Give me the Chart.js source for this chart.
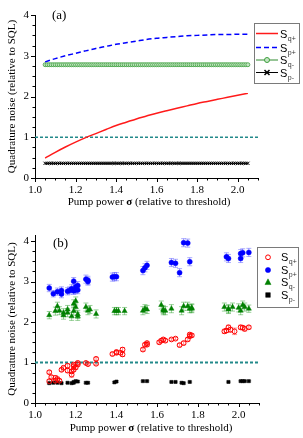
<!DOCTYPE html>
<html><head><meta charset="utf-8">
<script src="https://cdn.jsdelivr.net/npm/chart.js@4.4.0/dist/chart.umd.min.js"></script>
<style>
html,body{margin:0;padding:0;background:#fff;overflow:hidden;}
#wrapA{position:relative;width:303px;height:218px;}
#wrapB{position:relative;width:303px;height:220px;}
</style></head>
<body>
<div id="wrapA"><canvas id="chartA"></canvas></div>
<div id="wrapB"><canvas id="chartB"></canvas></div>
<script>
// ---------- DATA: panel (a) theory ----------
const sigmaCurve = [1.05,1.10,1.15,1.20,1.25,1.30,1.35,1.40,1.45,1.50,1.55,1.60,1.65,1.70,1.75,1.80,1.85,1.90,1.95,2.00,2.05];
const sqPlusTheory = [0.49,0.63,0.76,0.88,0.99,1.09,1.19,1.29,1.37,1.45,1.52,1.59,1.65,1.71,1.77,1.83,1.88,1.93,1.98,2.03,2.08];
const spPlusTheory = [2.85,2.93,3.00,3.06,3.12,3.18,3.23,3.28,3.32,3.36,3.40,3.43,3.45,3.47,3.49,3.50,3.51,3.52,3.52,3.53,3.53];
const sigmaDense = [1.05,1.06,1.07,1.08,1.09,1.10,1.11,1.12,1.13,1.14,1.15,1.16,1.17,1.18,1.19,1.20,1.21,1.22,1.23,1.24,1.25,1.26,1.27,1.28,1.29,1.30,1.31,1.32,1.33,1.34,1.35,1.36,1.37,1.38,1.39,1.40,1.41,1.42,1.43,1.44,1.45,1.46,1.47,1.48,1.49,1.50,1.51,1.52,1.53,1.54,1.55,1.56,1.57,1.58,1.59,1.60,1.61,1.62,1.63,1.64,1.65,1.66,1.67,1.68,1.69,1.70,1.71,1.72,1.73,1.74,1.75,1.76,1.77,1.78,1.79,1.80,1.81,1.82,1.83,1.84,1.85,1.86,1.87,1.88,1.89,1.90,1.91,1.92,1.93,1.94,1.95,1.96,1.97,1.98,1.99,2.00,2.01,2.02,2.03,2.04,2.05];
const sqMinusTheory = 2.78;
const spMinusTheory = 0.36;

// ---------- DATA: panel (b) measurements ----------
const sigmaSqPlus = [1.07,1.07,1.08,1.10,1.10,1.11,1.12,1.13,1.14,1.16,1.16,1.18,1.18,1.19,1.19,1.19,1.20,1.21,1.21,1.25,1.26,1.30,1.30,1.38,1.40,1.40,1.42,1.43,1.43,1.53,1.54,1.55,1.55,1.61,1.62,1.63,1.64,1.67,1.69,1.71,1.73,1.75,1.76,1.76,1.77,1.93,1.94,1.95,1.96,1.98,2.01,2.02,2.03,2.05];
const sqPlusMeas  = [0.76,0.54,0.64,0.55,0.62,0.59,0.55,0.82,0.87,0.92,0.80,0.70,0.78,0.82,0.91,0.95,0.88,0.95,0.99,0.99,0.96,0.97,1.09,1.21,1.24,1.26,1.24,1.32,1.20,1.32,1.44,1.48,1.44,1.50,1.54,1.57,1.54,1.57,1.59,1.43,1.48,1.57,1.65,1.69,1.67,1.77,1.79,1.87,1.81,1.77,1.87,1.86,1.83,1.87];
const sqPlusErr   = [0.04,0.04,0.04,0.05,0.06,0.05,0.04,0.04,0.04,0.05,0.05,0.06,0.05,0.04,0.04,0.04,0.05,0.04,0.04,0.03,0.03,0.03,0.04,0.04,0.04,0.04,0.04,0.05,0.05,0.04,0.04,0.04,0.04,0.04,0.04,0.04,0.04,0.03,0.03,0.04,0.04,0.04,0.04,0.04,0.04,0.05,0.05,0.05,0.06,0.08,0.05,0.05,0.05,0.04];

const sigmaSpPlus = [1.07,1.09,1.11,1.13,1.13,1.16,1.17,1.18,1.19,1.19,1.20,1.20,1.21,1.21,1.25,1.26,1.26,1.38,1.39,1.40,1.53,1.54,1.55,1.67,1.69,1.71,1.73,1.75,1.76,1.94,1.95,2.01,2.01,2.02,2.05];
const spPlusMeas  = [2.84,2.70,2.75,2.78,2.69,2.76,2.78,2.82,2.77,3.01,2.87,2.79,2.90,2.79,3.06,3.03,3.00,3.11,3.12,3.12,3.27,3.34,3.40,3.47,3.45,3.22,3.96,3.95,3.49,3.61,3.57,3.57,3.69,3.71,3.72];
const spPlusErr   = [0.09,0.08,0.09,0.09,0.09,0.09,0.09,0.10,0.09,0.09,0.10,0.09,0.10,0.09,0.10,0.10,0.09,0.10,0.10,0.10,0.10,0.10,0.10,0.10,0.10,0.10,0.10,0.10,0.10,0.10,0.10,0.10,0.10,0.10,0.10];

const sigmaSqMinus = [1.07,1.10,1.11,1.12,1.14,1.14,1.16,1.16,1.18,1.19,1.19,1.20,1.20,1.21,1.21,1.25,1.26,1.27,1.30,1.39,1.40,1.41,1.44,1.53,1.54,1.55,1.62,1.63,1.63,1.64,1.67,1.72,1.73,1.75,1.76,1.77,1.77,1.93,1.95,1.95,1.97,2.00,2.01,2.02,2.03,2.05];
const sqMinusMeas  = [2.17,2.27,2.39,2.28,2.17,2.23,2.23,2.31,2.14,2.45,2.27,2.37,2.52,2.19,2.14,2.37,2.28,2.31,2.20,2.27,2.27,2.27,2.27,2.28,2.33,2.31,2.42,2.28,2.31,2.28,2.33,2.28,2.39,2.39,2.33,2.35,2.33,2.37,2.33,2.31,2.37,2.35,2.28,2.42,2.37,2.33];
const sqMinusErr   = [0.09,0.10,0.10,0.10,0.10,0.10,0.10,0.10,0.10,0.10,0.10,0.10,0.10,0.10,0.10,0.10,0.10,0.10,0.10,0.09,0.09,0.09,0.09,0.10,0.10,0.10,0.10,0.10,0.10,0.10,0.10,0.10,0.10,0.10,0.10,0.10,0.10,0.10,0.10,0.10,0.10,0.10,0.10,0.10,0.10,0.09];

const sigmaSpMinus = [1.07,1.09,1.11,1.13,1.16,1.18,1.19,1.19,1.20,1.21,1.25,1.26,1.39,1.40,1.53,1.55,1.67,1.69,1.72,1.73,1.76,1.95,2.01,2.02,2.03,2.05];
const spMinusMeas  = [0.49,0.50,0.50,0.49,0.50,0.49,0.50,0.52,0.54,0.53,0.50,0.50,0.51,0.53,0.54,0.54,0.52,0.52,0.50,0.49,0.52,0.52,0.54,0.54,0.54,0.54];
const spMinusErr   = [0.02,0.02,0.02,0.02,0.02,0.02,0.02,0.02,0.02,0.02,0.02,0.02,0.02,0.02,0.02,0.02,0.02,0.02,0.02,0.02,0.02,0.02,0.02,0.02,0.02,0.02];

// ---------- axes / reference ----------
const xRange = [1.0, 2.1];
const sqlX = [1.0, 2.1];
const sqlY = [1, 1];
const xTickLabels = ['1.0','1.2','1.4','1.6','1.8','2.0'];
const yTickLabels = ['0','1','2','3','4'];
const xTitleParts = ['Pump power ', 'σ', ' (relative to threshold)'];
const yTitle = 'Quadrature noise (relative to SQL)';
const legendSubs = ['q+','p+','q-','p-'];

// ---------- helpers ----------
const SERIF = '"Liberation Serif", "Times New Roman", serif';
const SANS = '"Liberation Sans", Arial, sans-serif';
Chart.defaults.font.family = SERIF;
Chart.defaults.color = '#000';

function pts(xs, ys) { return xs.map((x, i) => ({x: x, y: ys[i]})); }

function drawMarker(ctx, style, x, y, r, fill, stroke, lw) {
  ctx.save();
  ctx.beginPath();
  ctx.lineWidth = lw;
  ctx.strokeStyle = stroke;
  ctx.fillStyle = fill;
  if (style === 'circle') {
    ctx.arc(x, y, r, 0, Math.PI * 2);
    ctx.fill(); ctx.stroke();
  } else if (style === 'rect') {
    ctx.rect(x - r, y - r, 2 * r, 2 * r);
    ctx.fill(); ctx.stroke();
  } else if (style === 'triangle') {
    ctx.moveTo(x, y - r * 1.15);
    ctx.lineTo(x + r, y + r * 0.75);
    ctx.lineTo(x - r, y + r * 0.75);
    ctx.closePath();
    ctx.fill(); ctx.stroke();
  } else if (style === 'crossRot') {
    ctx.moveTo(x - r, y - r); ctx.lineTo(x + r, y + r);
    ctx.moveTo(x + r, y - r); ctx.lineTo(x - r, y + r);
    ctx.stroke();
  }
  ctx.restore();
}

const tickPlugin = {
  id: 'ticksOut',
  afterDraw(chart) {
    const ctx = chart.ctx, xs = chart.scales.x, ys = chart.scales.y;
    const a = chart.chartArea;
    ctx.save();
    ctx.strokeStyle = '#000';
    ctx.lineWidth = 1;
    ctx.beginPath();
    for (let k = 0; k <= 22; k++) {
      const v = 1.0 + k * 0.05;
      const px = Math.round(xs.getPixelForValue(v)) + 0.5;
      const len = (k % 4 === 0) ? 4 : 2.5;
      ctx.moveTo(px, a.bottom); ctx.lineTo(px, a.bottom + len);
    }
    const ymax = ys.max;
    for (let k = 0; k * 0.25 <= ymax + 1e-9; k++) {
      const v = k * 0.25;
      const py = Math.round(ys.getPixelForValue(v)) + 0.5;
      const len = (k % 4 === 0) ? 4 : 2.5;
      ctx.moveTo(a.left, py); ctx.lineTo(a.left - len, py);
    }
    ctx.stroke();
    ctx.restore();
  }
};

const errorPlugin = {
  id: 'errBars',
  beforeDatasetsDraw(chart) {
    const ctx = chart.ctx, xs = chart.scales.x, ys = chart.scales.y;
    chart.data.datasets.forEach(ds => {
      if (!ds.errors) return;
      ctx.save();
      ctx.strokeStyle = ds.errorColor;
      ctx.lineWidth = 1;
      ctx.beginPath();
      ds.data.forEach((p, i) => {
        const e = ds.errors[i];
        const px = xs.getPixelForValue(p.x);
        const y1 = ys.getPixelForValue(p.y + e), y2 = ys.getPixelForValue(p.y - e);
        ctx.moveTo(px, y1); ctx.lineTo(px, y2);
        ctx.moveTo(px - 2.5, y1); ctx.lineTo(px + 2.5, y1);
        ctx.moveTo(px - 2.5, y2); ctx.lineTo(px + 2.5, y2);
      });
      ctx.stroke();
      ctx.restore();
    });
  }
};

const decoPlugin = {
  id: 'deco',
  afterDraw(chart, args, opts) {
    const ctx = chart.ctx;
    const a = chart.chartArea;
    ctx.save();
    // panel label
    ctx.fillStyle = '#000';
    ctx.font = '13px ' + SERIF;
    ctx.textBaseline = 'middle';
    ctx.textAlign = 'left';
    ctx.fillText(opts.panel, opts.panelX, opts.panelY);
    // x title with bold sigma
    const fonts = ['11px ' + SERIF, 'bold 11px ' + SERIF, '11px ' + SERIF];
    let total = 0;
    const widths = xTitleParts.map((t, i) => { ctx.font = fonts[i]; const w = ctx.measureText(t).width; total += w; return w; });
    let x = opts.xTitleCx - total / 2;
    xTitleParts.forEach((t, i) => { ctx.font = fonts[i]; ctx.fillText(t, x, opts.xTitleY); x += widths[i]; });
    // legend
    const L = opts.legend;
    ctx.fillStyle = '#fff';
    ctx.fillRect(L.x, L.y, L.w, L.h);
    ctx.strokeStyle = '#7a7a7a';
    ctx.lineWidth = 1;
    ctx.strokeRect(L.x + 0.5, L.y + 0.5, L.w, L.h);
    L.entries.forEach((e, i) => {
      const y = L.rows[i];
      if (e.line) {
        ctx.save();
        ctx.strokeStyle = e.line.color;
        ctx.lineWidth = e.line.width;
        ctx.setLineDash(e.line.dash || []);
        ctx.beginPath();
        ctx.moveTo(L.lineX0, y); ctx.lineTo(L.lineX1, y);
        ctx.stroke();
        ctx.restore();
      }
      if (e.marker) {
        const m = e.marker;
        drawMarker(ctx, m.style, L.markerX, y, m.r, m.fill, m.stroke, m.lw);
      }
      ctx.fillStyle = '#000';
      ctx.textBaseline = 'alphabetic';
      ctx.font = '11px ' + SANS;
      ctx.fillText('S', L.textX, y + 4);
      const sw = ctx.measureText('S').width;
      ctx.font = '7px ' + SANS;
      ctx.fillStyle = '#333';
      ctx.fillText(legendSubs[i], L.textX + sw + 0.5, y + 7);
    });
    ctx.restore();
  }
};

function scalesCfg(ymax, xh, yw) {
  return {
    x: {
      type: 'linear', min: xRange[0], max: xRange[1],
      afterFit: s => { s.height = xh; },
      grid: { display: true, drawOnChartArea: false, drawTicks: false },
      border: { display: true, color: '#000', width: 1 },
      ticks: { stepSize: 0.2, includeBounds: false, autoSkip: false, maxRotation: 0, padding: 6,
        font: { family: SERIF, size: 11 }, color: '#000',
        callback: (v) => { const i = Math.round((v - 1.0) / 0.2); return (Math.abs(v - 1.0 - i * 0.2) < 1e-6 && xTickLabels[i]) ? xTickLabels[i] : ''; } }
    },
    y: {
      type: 'linear', min: 0, max: ymax,
      afterFit: s => { s.width = yw; },
      grid: { display: true, drawOnChartArea: false, drawTicks: false },
      border: { display: true, color: '#000', width: 1 },
      ticks: { stepSize: 1, includeBounds: false, padding: 6, font: { family: SERIF, size: 11 }, color: '#000',
        callback: (v) => (Number.isInteger(v) && yTickLabels[v] !== undefined) ? yTickLabels[v] : '' },
      title: { display: true, text: yTitle, font: { family: SERIF, size: 11 }, color: '#000', padding: { top: 6, bottom: 0 } }
    }
  };
}

const TEAL = '#22898a';

// ---------- Chart (a) ----------
new Chart(document.getElementById('chartA'), {
  type: 'scatter',
  data: {
    datasets: [
      { data: pts(sigmaCurve, sqPlusTheory), showLine: true, borderColor: '#ff1a1a', borderWidth: 1.5, pointRadius: 0, cubicInterpolationMode: 'monotone' },
      { data: pts(sigmaCurve, spPlusTheory), showLine: true, borderColor: '#0000ff', borderWidth: 1.5, borderDash: [5, 3], pointRadius: 0, cubicInterpolationMode: 'monotone' },
      { data: sigmaDense.map(x => ({x: x, y: sqMinusTheory})), showLine: true, borderColor: '#2e8b2e', borderWidth: 1,
        pointStyle: 'circle', pointRadius: 2, pointBorderWidth: 0.8, pointBorderColor: '#3f9f3f', pointBackgroundColor: '#c4e6c4' },
      { data: sigmaDense.map(x => ({x: x, y: spMinusTheory})), showLine: true, borderColor: '#000', borderWidth: 1,
        pointStyle: 'crossRot', pointRadius: 2.3, pointBorderWidth: 1, pointBorderColor: '#000' },
      { data: pts(sqlX, sqlY), showLine: true, borderColor: TEAL, borderWidth: 1.3, borderDash: [3, 2], pointRadius: 0 }
    ]
  },
  options: {
    responsive: true, maintainAspectRatio: false, animation: false, devicePixelRatio: 1,
    layout: { padding: { left: 0, right: 45, top: 15, bottom: 0 } },
    plugins: {
      legend: { display: false }, tooltip: { enabled: false },
      deco: {
        panel: '(a)', panelX: 52, panelY: 16,
        xTitleCx: 149, xTitleY: 202,
        legend: {
          x: 254, y: 23, w: 45, h: 60,
          rows: [33.5, 47.5, 60, 72.5],
          lineX0: 256, lineX1: 278, markerX: 267, textX: 280,
          entries: [
            { line: { color: '#ff1a1a', width: 1.5 } },
            { line: { color: '#0000ff', width: 1.5, dash: [5, 3] } },
            { line: { color: '#2e8b2e', width: 1 }, marker: { style: 'circle', r: 2.5, fill: '#c4e6c4', stroke: '#3f9f3f', lw: 1 } },
            { line: { color: '#000', width: 1 }, marker: { style: 'crossRot', r: 2.5, fill: '#000', stroke: '#000', lw: 1.5 } }
          ]
        }
      }
    },
    scales: scalesCfg(4, 40, 35)
  },
  plugins: [tickPlugin, decoPlugin]
});

// ---------- Chart (b) ----------
new Chart(document.getElementById('chartB'), {
  type: 'scatter',
  data: {
    datasets: [
      { data: pts(sigmaSqPlus, sqPlusMeas), errors: sqPlusErr, errorColor: 'rgba(255,70,70,0.6)',
        pointStyle: 'circle', pointRadius: 2.4, pointBorderWidth: 1, pointBorderColor: '#ff0000', pointBackgroundColor: 'rgba(255,255,255,0)' },
      { data: pts(sigmaSpPlus, spPlusMeas), errors: spPlusErr, errorColor: 'rgba(70,70,255,0.45)',
        pointStyle: 'circle', pointRadius: 2.5, pointBorderWidth: 0.5, pointBorderColor: '#0000ff', pointBackgroundColor: '#0000ff' },
      { data: pts(sigmaSqMinus, sqMinusMeas), errors: sqMinusErr, errorColor: 'rgba(0,140,0,0.4)',
        pointStyle: 'triangle', pointRadius: 3, pointBorderWidth: 0.5, pointBorderColor: '#008000', pointBackgroundColor: '#008000' },
      { data: pts(sigmaSpMinus, spMinusMeas), errors: spMinusErr, errorColor: 'rgba(0,0,0,0.3)',
        pointStyle: 'rect', pointRadius: 2.2, pointBorderWidth: 0.5, pointBorderColor: '#000', pointBackgroundColor: '#000' },
      { data: pts(sqlX, sqlY), showLine: true, borderColor: TEAL, borderWidth: 1.8, borderDash: [3, 2], pointRadius: 0 }
    ]
  },
  options: {
    responsive: true, maintainAspectRatio: false, animation: false, devicePixelRatio: 1,
    layout: { padding: { left: 0, right: 44, top: 17, bottom: 0 } },
    plugins: {
      legend: { display: false }, tooltip: { enabled: false },
      deco: {
        panel: '(b)', panelX: 53, panelY: 25.5,
        xTitleCx: 151, xTitleY: 210,
        legend: {
          x: 257, y: 29, w: 41, h: 60,
          rows: [39.3, 52, 64.3, 77],
          lineX0: 0, lineX1: 0, markerX: 268, textX: 281,
          entries: [
            { marker: { style: 'circle', r: 2.4, fill: '#fff', stroke: '#ff0000', lw: 1 } },
            { marker: { style: 'circle', r: 2.6, fill: '#0000ff', stroke: '#0000ff', lw: 0.5 } },
            { marker: { style: 'triangle', r: 3, fill: '#008000', stroke: '#008000', lw: 0.5 } },
            { marker: { style: 'rect', r: 2.3, fill: '#000', stroke: '#000', lw: 0.5 } }
          ]
        }
      }
    },
    scales: scalesCfg(4.15, 35, 35)
  },
  plugins: [tickPlugin, errorPlugin, decoPlugin]
});
</script>
</body></html>
